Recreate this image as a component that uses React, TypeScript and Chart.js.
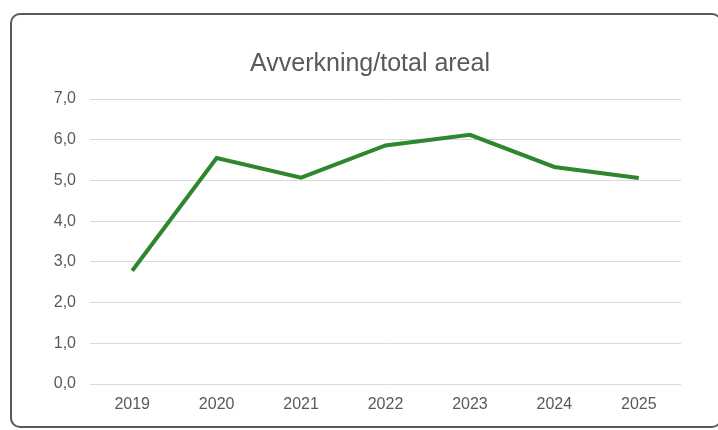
import React, { useEffect, useRef } from "react";
import { Chart, registerables } from "chart.js";

Chart.register(...registerables);

const years = ["2019", "2020", "2021", "2022", "2023", "2024", "2025"];
const values = [2.78, 5.55, 5.07, 5.86, 6.12, 5.33, 5.06];
const chartTitle = "Avverkning/total areal";
const yMin = 0;
const yMax = 7;
const yStep = 1;

const titleShift = {
  id: "titleShift",
  afterLayout(chart: any) {
    const tb = chart.titleBlock;
    if (tb) {
      tb.left += 9.5;
      tb.right += 9.5;
    }
  },
};

export default function App() {
  const ref = useRef<HTMLCanvasElement | null>(null);

  useEffect(() => {
    if (!ref.current) return;
    const font = "'Liberation Sans', Arial, sans-serif";
    const chart = new Chart(ref.current, {
      type: "line",
      data: {
        labels: years,
        datasets: [
          {
            label: chartTitle,
            data: values,
            borderColor: "#2e862e",
            borderWidth: 4,
            pointRadius: 0,
            tension: 0,
            fill: false,
            borderJoinStyle: "miter",
          },
        ],
      },
      plugins: [titleShift],
      options: {
        responsive: false,
        animation: false,
        layout: { padding: { left: 40, right: 37, top: 40, bottom: 16 } },
        plugins: {
          legend: { display: false },
          tooltip: { enabled: false },
          title: {
            display: true,
            text: chartTitle,
            color: "#595959",
            font: { family: font, size: 25, weight: "normal" },
            padding: { top: 9, bottom: 20 },
          },
        },
        scales: {
          x: {
            offset: true,
            grid: { display: false, drawTicks: false },
            border: { display: false },
            ticks: {
              color: "#595959",
              font: { family: font, size: 16 },
              padding: 11,
              maxRotation: 0,
            },
            afterFit: (s: any) => {
              s.height = 30;
            },
          },
          y: {
            min: yMin,
            max: yMax,
            grid: { color: "#d9d9d9", lineWidth: 1, drawTicks: false },
            border: { display: false },
            ticks: {
              stepSize: yStep,
              color: "#595959",
              font: { family: font, size: 16 },
              padding: 14,
              callback: (v: any) => Number(v).toFixed(1).replace(".", ","),
            },
            afterFit: (s: any) => {
              s.width = 50;
            },
          },
        },
      },
    });
    return () => chart.destroy();
  }, []);

  return (
    <>
      <canvas
        ref={ref}
        width={718}
        height={430}
        style={{ position: "fixed", left: 0, top: 0, width: 718, height: 430 }}
      />
      <div
        style={{
          position: "fixed",
          left: 10,
          top: 13,
          width: 712,
          height: 415,
          boxSizing: "border-box",
          border: "2px solid #595959",
          borderRadius: 10,
          pointerEvents: "none",
        }}
      />
    </>
  );
}
